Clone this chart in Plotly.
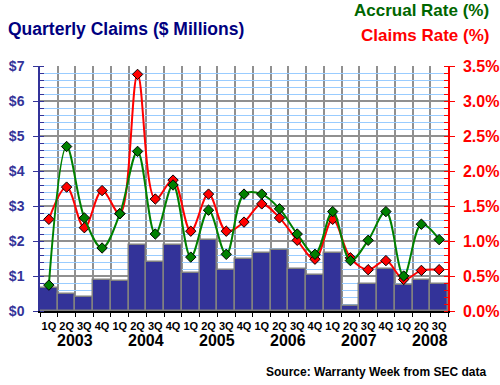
import plotly.graph_objects as go

quarter_labels = ['1Q', '2Q', '3Q', '4Q'] * 5 + ['1Q', '2Q', '3Q']
year_labels = ['2003', '2004', '2005', '2006', '2007', '2008']
claims_musd = [0.65, 0.50, 0.41, 0.88, 0.85, 1.88, 1.39, 1.90, 1.08, 2.02, 1.16, 1.50,
               1.65, 1.73, 1.19, 1.02, 1.65, 0.13, 0.76, 1.19, 0.73, 0.88, 0.76]
accrual_rate = [0.37, 2.35, 1.33, 0.90, 1.39, 2.28, 1.10, 1.80, 0.77, 1.44, 0.81, 1.67,
                1.67, 1.46, 1.10, 0.81, 1.42, 0.72, 1.01, 1.42, 0.50, 1.24, 1.02]
claims_rate = [1.31, 1.77, 1.19, 1.72, 1.39, 3.38, 1.60, 1.87, 1.14, 1.67, 1.14, 1.27,
               1.53, 1.33, 1.01, 0.74, 1.31, 0.76, 0.59, 0.72, 0.45, 0.58, 0.59]

FONT = "Arial, Liberation Sans, sans-serif"
x = list(range(len(quarter_labels)))

fig = go.Figure()
fig.add_trace(go.Bar(x=x, y=claims_musd, width=1, marker=dict(color='#333399', line=dict(color='#808080', width=1.5)),
                     yaxis='y', showlegend=False))
fig.add_trace(go.Scatter(x=x, y=claims_rate, yaxis='y2', mode='lines+markers',
                         line=dict(color='#FF0000', width=2, shape='spline'),
                         marker=dict(symbol='diamond', size=8, color='#FF0000', line=dict(color='#000000', width=1)),
                         showlegend=False))
fig.add_trace(go.Scatter(x=x, y=accrual_rate, yaxis='y2', mode='lines+markers',
                         line=dict(color='#008000', width=2, shape='spline'),
                         marker=dict(symbol='diamond', size=8, color='#008000', line=dict(color='#000000', width=1)),
                         showlegend=False))

annotations = [
    dict(text='<b>Quarterly Claims ($ Millions)</b>', xref='paper', yref='paper', x=-0.083, y=1.151,
         xanchor='left', yanchor='middle', showarrow=False, font=dict(family=FONT, size=17.5, color='#000080')),
    dict(text='<b>Accrual Rate (%)</b>', xref='paper', yref='paper', x=1.1054, y=1.2245,
         xanchor='right', yanchor='middle', showarrow=False, font=dict(family=FONT, size=17, color='#006600')),
    dict(text='<b>Claims Rate (%)</b>', xref='paper', yref='paper', x=1.1054, y=1.1245,
         xanchor='right', yanchor='middle', showarrow=False, font=dict(family=FONT, size=17, color='#FF0000')),
    dict(text='<b>Source: Warranty Week from SEC data</b>', xref='paper', yref='paper', x=1.098, y=-0.247,
         xanchor='right', yanchor='middle', showarrow=False, font=dict(family=FONT, size=12, color='#000000')),
]
for i, yl in enumerate(year_labels):
    annotations.append(dict(text='<b>%s</b>' % yl, xref='x', yref='paper', x=1.5 + 4 * i, y=-0.121,
                            xanchor='center', yanchor='middle', showarrow=False,
                            font=dict(family=FONT, size=16, color='#000000')))

fig.update_layout(
    width=500, height=385,
    margin=dict(l=40, r=52, t=66, b=74, autoexpand=False),
    paper_bgcolor='white', plot_bgcolor='white',
    bargap=0,
    annotations=annotations,
    xaxis=dict(range=[-0.5, len(x) - 0.5], tickmode='array', tickvals=x, ticktext=quarter_labels,
               tickangle=0, ticks='', showgrid=False, zeroline=False, automargin=False,
               ticklabelstandoff=4,
               showline=True, linecolor='#000000', linewidth=1.5,
               tickfont=dict(family=FONT, size=11, color='#000000', weight='bold'),
               minor=dict(tickmode='linear', tick0=0.5, dtick=1, ticks='outside', ticklen=4,
                          tickcolor='#000000', showgrid=True, gridcolor='#909090', gridwidth=1.5)),
    yaxis=dict(range=[0, 7], dtick=1, tickprefix='$', tickformat='d', automargin=False,
               ticklabelstandoff=6,
               showgrid=True, gridcolor='#909090', gridwidth=1.5, zeroline=False,
               showline=True, linecolor='#333399', linewidth=1.5,
               ticks='outside', ticklen=5, tickcolor='#333399',
               tickfont=dict(family=FONT, size=14, color='#333399', weight='bold'),
               minor=dict(dtick=0.2, ticks='inside', ticklen=4, tickcolor='#333399',
                          showgrid=True, gridcolor='#99CCFF', gridwidth=1)),
    yaxis2=dict(range=[0, 3.5], dtick=0.5, overlaying='y', side='right', ticksuffix='%', tickformat='.1f',
                automargin=False, ticklabelstandoff=5,
                showgrid=False, zeroline=False, showline=True, linecolor='#FF0000', linewidth=1.5,
                ticks='outside', ticklen=5, tickcolor='#FF0000',
                tickfont=dict(family=FONT, size=16, color='#FF0000', weight='bold'),
                minor=dict(dtick=0.1, ticks='inside', ticklen=4, tickcolor='#FF0000', showgrid=False)),
)

fig.write_html("out.html", config={'displayModeBar': False},
               post_script="document.body.style.margin='0';document.body.style.overflow='hidden';")
